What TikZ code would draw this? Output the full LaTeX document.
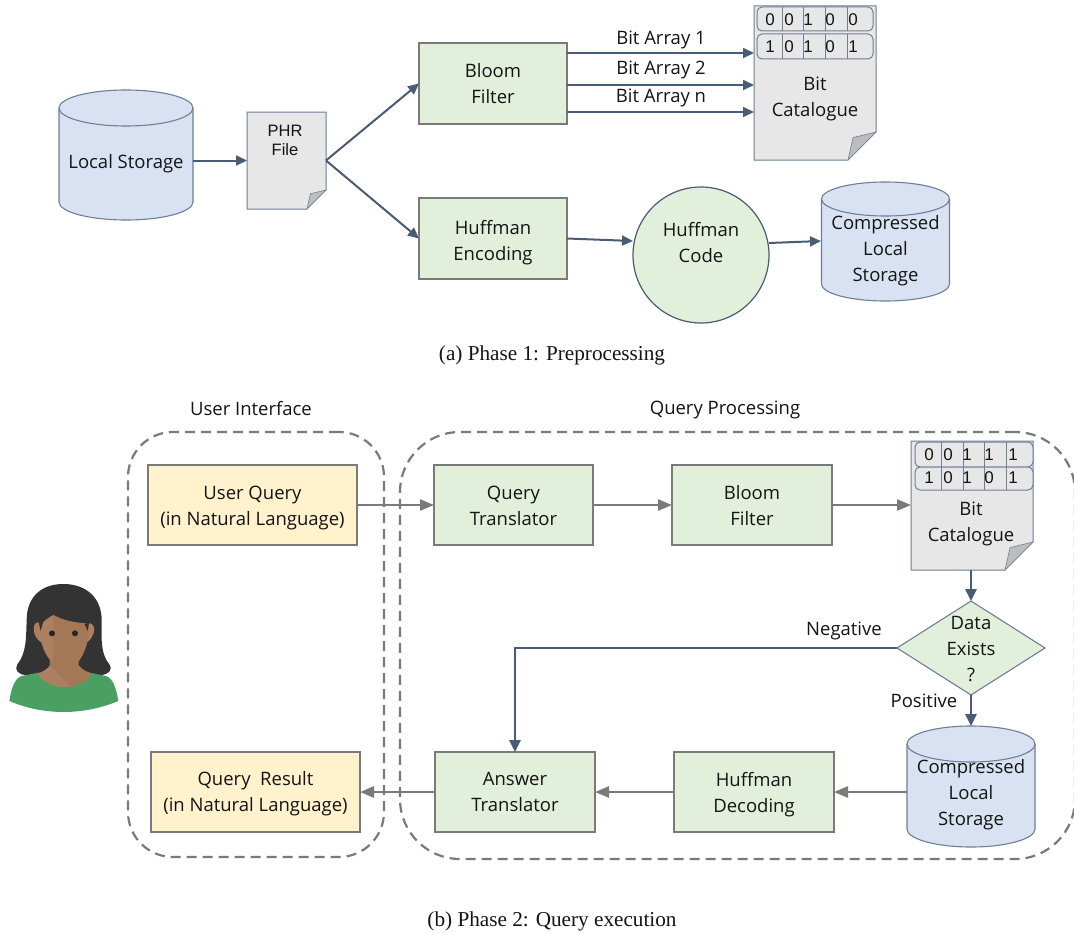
\documentclass[tikz,border=0pt]{standalone}
\usepackage{fontspec}
\setmainfont{Open Sans}
\newfontfamily\capfont{Liberation Serif}
\newfontfamily\arialfont{Liberation Sans}
\usetikzlibrary{arrows.meta,shapes.geometric,calc}
\definecolor{edgeblue}{HTML}{4A5B76}
\definecolor{edgegray}{HTML}{7A7A7A}
\definecolor{boxgreen}{HTML}{E2EFDA}
\definecolor{boxyellow}{HTML}{FFF2CC}
\definecolor{cylblue}{HTML}{D9E2F3}
\definecolor{docgray}{HTML}{E7E7E7}
\definecolor{docline}{HTML}{6F7F96}
\definecolor{foldgray}{HTML}{BDBDBD}
\definecolor{circgreen}{HTML}{E2EFDA}
\definecolor{shirt}{HTML}{4A9F63}
\definecolor{skin}{HTML}{AB7F5F}
\definecolor{skindark}{HTML}{A47856}
\newcommand{\topstrut}[1][18]{\rule{0pt}{#1pt}}
\newcommand{\botstrut}[1][5]{\rule[-#1pt]{0pt}{1pt}}
\tikzset{
  base/.style={outer sep=0pt,inner sep=0pt,align=center,text=black!92,font=\fontsize{18.5}{26}\selectfont},
  gbox/.style={base,draw=edgegray,line width=2.8pt,fill=boxgreen},
  ybox/.style={base,draw=edgegray,line width=2.8pt,fill=boxyellow},
  free/.style={base},
  caption/.style={base,font=\capfont\fontsize{21.2}{25}\selectfont},
  barrow/.style={draw=edgeblue,line width=2pt,-{Triangle[length=11pt,width=10pt]}},
  barrowb/.style={draw=edgeblue,line width=2.6pt,-{Triangle[length=12pt,width=11pt]}},
  garrow/.style={draw=edgegray,line width=2.5pt,-{Triangle[length=14pt,width=11pt]}},
  dashbox/.style={draw=edgegray,line width=2.2pt,dash pattern=on 10pt off 6pt},
  bit/.style={base,font=\arialfont\fontsize{17}{20}\selectfont},
  rowbox/.style={draw=docline,line width=1pt,rounded corners=5pt},
  divider/.style={draw=docline,line width=1pt}
}
% name, left, top, right, bottom, fold size, unused, text
\newcommand{\docshape}[7]{%
  \path[draw=docline,line width=1pt,fill=docgray]
    (#2,#3) -- (#4,#3) -- (#4,#5-#6) -- (#4-#6,#5) -- (#2,#5) -- cycle;
  \path[draw=docline,line width=.6pt,fill=foldgray]
    (#4-#6,#5) -- (#4-#6+.18*#6,#5-.8*#6) -- (#4,#5-#6) -- cycle;
  \node[free,minimum width=#4pt-#2pt,minimum height=#5pt-#3pt] (#1) at ({(#2+#4)/2},{(#3+#5)/2}) {};
  #7}
% name, cx, top, bottom, rx, ry, text
\newcommand{\cylshape}[7]{%
  \path[draw=docline,line width=1.1pt,fill=cylblue]
    (#2-#5,#3+#6) arc[start angle=180,end angle=0,x radius=#5pt,y radius=#6pt]
    -- (#2+#5,#4-#6) arc[start angle=0,end angle=-180,x radius=#5pt,y radius=#6pt] -- cycle;
  \path[draw=docline,line width=1.1pt]
    (#2-#5,#3+#6) arc[start angle=180,end angle=360,x radius=#5pt,y radius=#6pt];
  \node[free,minimum width=2*#5pt,minimum height=#4pt-#3pt] (#1) at (#2,{(#3+#4)/2+8.5}) {#7};}
\begin{document}
\begin{tikzpicture}[x=1pt,y=-1pt]
\useasboundingbox (0,0) rectangle (1074,934);
\fill[white] (0,0) rectangle (1074,934);

% ---------- Phase 1
\cylshape{ls}{126}{90}{220}{67}{18}{\topstrut[14.5]Local Storage}
\docshape{phr}{247}{112}{326}{209}{19}{}
\node[base,font=\arialfont\fontsize{16.5}{19}\selectfont] (phrt) at (285,140) {PHR\\File};
\node[gbox,minimum width=148pt,minimum height=81pt] (bloomA) at (493,83.5) {\topstrut Bloom\\Filter\botstrut};
\node[gbox,minimum width=148pt,minimum height=81pt] (huffA) at (493,238.5) {\topstrut[23]Huffman\\Encoding\botstrut};
\node[base,circle,draw=edgeblue,line width=1.2pt,fill=circgreen,minimum size=136pt] (code) at (701,255) {\topstrut Huffman\\Code\botstrut[29]};
\cylshape{cA}{885.5}{182}{301}{64}{17}{\topstrut[16]Compressed\\Local\\Storage}
\docshape{catA}{754}{6}{876}{160}{28}{}
\node[free] (catAt) at (815,99) {Bit\\Catalogue};
\path[fill=docgray,rowbox] (757,7) rectangle (873,31);
\path[fill=docgray,rowbox] (757,34) rectangle (873,59);
\foreach \x in {782,803,825,847} \draw[divider] (\x,7) -- (\x,31) (\x,34) -- (\x,59);
\foreach \x/\b [count=\i] in {770/0,789/0,808/1,830/0,853/0} \node[bit] (a1\i) at (\x,20) {\b};
\foreach \x/\b [count=\i] in {770/1,789/0,808/1,830/0,853/1} \node[bit] (a2\i) at (\x,47) {\b};

\coordinate (bi1) at (754,53);
\coordinate (bi2) at (754,85);
\coordinate (bi3) at (754,112);
\coordinate (cW) at (633,241);
\coordinate (cE) at (769,243);
\coordinate (cAw) at (821,241);
\coordinate (lsE) at (193,160.5);
\draw[barrow] (lsE) -- (phr.west);
\draw[barrow] (phr.east) -- (bloomA.west);
\draw[barrow] (phr.east) -- (huffA.west);
\draw[barrow] (bloomA.east |- bi1) -- (bi1);
\draw[barrow] (bloomA.east |- bi2) -- (bi2);
\draw[barrow] (bloomA.east |- bi3) -- (bi3);
\draw[barrow] (huffA.east) -- (cW);
\draw[barrow] (cE) -- (cAw);
\node[free] (l1) at (661,40) {Bit Array 1};
\node[free] (l2) at (661,70) {Bit Array 2};
\node[free] (l3) at (661,98) {Bit Array n};
\node[caption] (capA) at (552,355) {(a) Phase 1: Preprocessing};

% ---------- Phase 2
\node[free] (ui) at (251,409) {User Interface};
\node[free] (qp) at (725,410) {Query Processing};
\node[dashbox,outer sep=0pt,rectangle,rounded corners=45pt,minimum width=256pt,minimum height=425pt] (uiB) at (256,644.5) {};
\node[dashbox,outer sep=0pt,rectangle,rounded corners=60pt,minimum width=675pt,minimum height=427pt] (qpB) at (737.5,645.5) {};

\node[ybox,minimum width=209pt,minimum height=80pt] (uq) at (252.5,505) {\topstrut[20]User Query\\(in Natural Language)\botstrut};
\node[gbox,minimum width=159pt,minimum height=80pt] (qt) at (513.5,505) {\topstrut[20]Query\\Translator\botstrut};
\node[gbox,minimum width=160pt,minimum height=80pt] (bloomB) at (752,505) {\topstrut[20]Bloom\\Filter\botstrut};
\docshape{catB}{911}{441}{1033}{570}{28}{}
\node[free] (catBt) at (971,524) {Bit\\Catalogue};
\path[fill=docgray,rowbox] (915,442) rectangle (1033,467);
\path[fill=docgray,rowbox] (915,467) rectangle (1033,490);
\foreach \x in {941,963,984,1006} \draw[divider] (\x,442) -- (\x,490);
\foreach \x/\b [count=\i] in {929/0,948/0,967/1,989/1,1013/1} \node[bit] (b1\i) at (\x,455) {\b};
\foreach \x/\b [count=\i] in {929/1,948/0,967/1,989/0,1013/1} \node[bit] (b2\i) at (\x,478) {\b};
\node[base,diamond,aspect=1.57,draw=docline,line width=1.1pt,fill=boxgreen,minimum width=148pt,minimum height=94pt] (dia) at (971,648) {};
\node[free] (diat) at (971,649) {Data\\Exists\\?};
\cylshape{cB}{971}{726}{847}{64}{18}{Compressed\\Local\\Storage}
\node[gbox,minimum width=160pt,minimum height=80pt] (hd) at (754,792) {\topstrut[20]Huffman\\Decoding\botstrut};
\node[gbox,minimum width=160pt,minimum height=80pt] (at) at (515,792) {\topstrut Answer\\Translator\botstrut};
\node[ybox,minimum width=209pt,minimum height=80pt] (qr) at (255.5,792) {\topstrut Query\ \ Result\\(in Natural Language)\botstrut};

\coordinate (cBtop) at (971,726);
\coordinate (cBw) at (907,792);
\coordinate (catBs) at (971,570);
\coordinate (catBw) at (911,505);
\draw[garrow] (uq.east) -- (qt.west);
\draw[garrow] (qt.east) -- (bloomB.west);
\draw[garrow] (bloomB.east) -- (catBw);
\draw[barrowb] (catBs) -- (dia.north);
\draw[barrowb] (dia.south) -- (cBtop);
\draw[barrowb] (dia.west) -| (at.north);
\draw[garrow] (cBw) -- (hd.east);
\draw[garrow] (hd.west) -- (at.east);
\draw[garrow] (at.west) -- (qr.east);
\node[free] (neg) at (844,631) {Negative};
\node[free] (pos) at (924,701) {Positive};
\node[caption] (capB) at (552,921) {(b) Phase 2: Query execution};

% ---------- Person
\begin{scope}[shift={(0,570)},x=.3333pt,y=-.3333pt]
\fill[black!80] (190,42) .. controls (120,42) and (80,85) .. (80,150)
  .. controls (78,200) and (80,250) .. (52,283) .. controls (42,300) and (55,315) .. (80,315)
  -- (300,315) .. controls (325,315) and (340,300) .. (328,283)
  .. controls (300,250) and (305,200) .. (305,150) .. controls (305,85) and (260,42) .. (190,42) -- cycle;
\fill[shirt] (28,393) .. controls (35,350) and (45,325) .. (65,318)
  -- (115,308) -- (268,308) -- (318,318) .. controls (338,325) and (348,350) .. (355,393)
  .. controls (250,437) and (130,437) .. (28,393) -- cycle;
\end{scope}
\begin{scope}[shift={(25,605)},x=.3333pt,y=-.3333pt]
\fill[skin] (38,52) .. controls (20,55) and (22,95) .. (48,112) -- (60,60) -- cycle;
\fill[skin] (195,55) .. controls (215,60) and (210,95) .. (186,112) -- (170,60) -- cycle;
\fill[skin] (45,60) .. controls (60,45) and (75,35) .. (85,30) .. controls (110,45) and (150,55) .. (190,55)
  .. controls (195,110) and (175,150) .. (160,170) -- (160,180) .. controls (170,195) and (185,200) .. (200,206)
  .. controls (170,260) and (70,260) .. (38,206) .. controls (55,200) and (70,190) .. (75,180) -- (75,165)
  .. controls (55,140) and (40,100) .. (45,60) -- cycle;
\fill[skindark] (85,30) .. controls (110,45) and (150,55) .. (190,55) .. controls (195,110) and (175,150) .. (160,170)
  .. controls (135,185) and (105,185) .. (85,170) -- cycle;
\fill[skindark] (75,180) -- (135,245) .. controls (170,240) and (190,225) .. (200,206)
  .. controls (185,200) and (170,195) .. (160,180) -- (160,168) .. controls (130,182) and (100,182) .. (75,165) -- cycle;
\fill[black!80] (40,46) -- (47,78) -- (54,52) -- cycle;
\fill[black!80] (192,54) -- (188,78) -- (178,56) -- cycle;
\fill[black!85] (81,85) circle[radius=9] (150,85) circle[radius=9];
\end{scope}
\end{tikzpicture}
\end{document}
